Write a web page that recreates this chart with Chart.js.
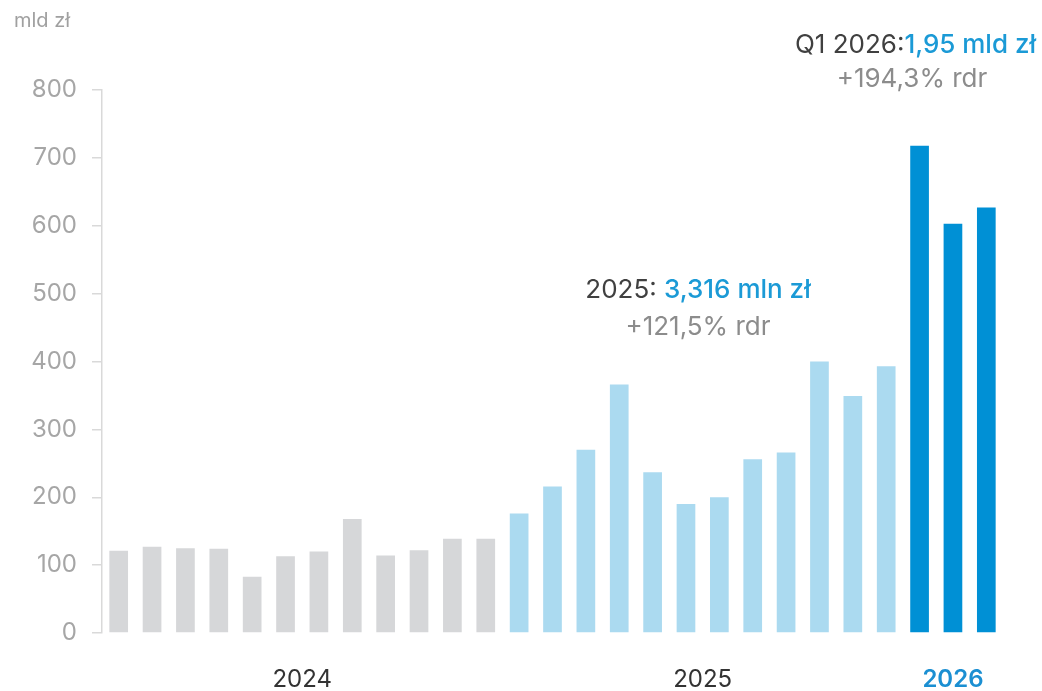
<!DOCTYPE html>
<html>
<head>
<meta charset="utf-8">
<script src="https://cdn.jsdelivr.net/npm/chart.js@4.4.0/dist/chart.umd.min.js"></script>
<style>
  html, body { margin: 0; padding: 0; background: #ffffff; }
  #wrap { width: 1042px; height: 691px; position: relative; }
</style>
</head>
<body>
<div id="wrap"><canvas id="c" width="1042" height="691"></canvas></div>
<script>
// ---- data ----
const values2024 = [121, 127, 125, 124, 83, 113, 120, 168, 114, 122, 139, 139];
const values2025 = [176, 216, 270, 366, 237, 190, 200, 256, 266, 400, 349, 393];
const values2026 = [718, 603, 627];
const yearLabels = ['2024', '2025', '2026'];
const yTicks = [0, 100, 200, 300, 400, 500, 600, 700, 800];
const unitLabel = 'mld zł';
const note2025 = ['2025: ', '3,316 mln zł', '+121,5% rdr'];
const note2026 = ['Q1 2026:', '1,95 mld zł', '+194,3% rdr'];

const colors = { y2024: '#D6D7D9', y2025: '#ABDAF0', y2026: '#0090D5' };
const FONT = 'Inter, "Noto Sans", sans-serif';

const allValues = [...values2024, ...values2025, ...values2026];
const categories = allValues.map((_, i) => 'm' + (i + 1));
const barColors = [
  ...values2024.map(() => colors.y2024),
  ...values2025.map(() => colors.y2025),
  ...values2026.map(() => colors.y2026)
];
// year groups: [first index, last index]
const yearGroups = [
  [0, values2024.length - 1],
  [values2024.length, values2024.length + values2025.length - 1],
  [values2024.length + values2025.length, allValues.length - 1]
];

const notesPlugin = {
  id: 'notes',
  afterDraw(chart) {
    const ctx = chart.ctx;
    const xs = chart.scales.x;
    ctx.save();
    ctx.textBaseline = 'alphabetic';
    // year labels centred under their groups
    yearGroups.forEach((g, i) => {
      const x = (xs.getPixelForValue(g[0]) + xs.getPixelForValue(g[1])) / 2;
      ctx.font = (i === 2 ? '600 ' : '400 ') + '24px ' + FONT;
      ctx.fillStyle = i === 2 ? '#1B8FD2' : '#333333';
      ctx.textAlign = 'center';
      ctx.fillText(yearLabels[i], x, 687);
    });
    // unit label
    ctx.font = '400 20px ' + FONT;
    ctx.fillStyle = '#A0A0A0';
    ctx.textAlign = 'left';
    ctx.fillText(unitLabel, 14, 27);

    function mixed(parts, fonts, cols, x, y, align) {
      const widths = parts.map((p, i) => { ctx.font = fonts[i]; return ctx.measureText(p).width; });
      const total = widths.reduce((a, b) => a + b, 0);
      let start = align === 'right' ? x - total : x - total / 2;
      ctx.textAlign = 'left';
      parts.forEach((p, i) => {
        ctx.font = fonts[i];
        ctx.fillStyle = cols[i];
        ctx.fillText(p, start, y);
        start += widths[i];
      });
    }
    // 2025 note
    mixed([note2025[0], note2025[1]],
      ['400 26px ' + FONT, '500 26px ' + FONT],
      ['#404040', '#1B9AD6'], 698, 298, 'center');
    ctx.font = '400 26px ' + FONT;
    ctx.fillStyle = '#8C8C8C';
    ctx.textAlign = 'center';
    ctx.fillText(note2025[2], 698, 335);
    // 2026 note
    mixed([note2026[0], note2026[1]],
      ['400 26px ' + FONT, '500 26px ' + FONT],
      ['#404040', '#1B9AD6'], 1036, 53, 'right');
    ctx.font = '400 26px ' + FONT;
    ctx.fillStyle = '#8C8C8C';
    ctx.textAlign = 'center';
    ctx.fillText(note2026[2], 912, 87);
    ctx.restore();
  }
};

new Chart(document.getElementById('c'), {
  type: 'bar',
  data: {
    labels: categories,
    datasets: [{
      data: allValues,
      backgroundColor: barColors,
      borderWidth: 0,
      categoryPercentage: 1.0,
      barPercentage: 0.56
    }]
  },
  options: {
    responsive: false,
    animation: false,
    devicePixelRatio: 1,
    layout: { padding: { top: 90, right: 39, left: 0, bottom: 58 } },
    plugins: { legend: { display: false }, tooltip: { enabled: false } },
    scales: {
      x: { type: 'category', display: false, offset: true },
      y: {
        min: 0,
        max: 800,
        afterBuildTicks(scale) { scale.ticks = yTicks.map(v => ({ value: v })); },
        afterFit(scale) { scale.width = 102; },
        grid: { display: true, drawOnChartArea: false, drawTicks: true, tickLength: 10, color: '#D9D9D9', lineWidth: 1.5 },
        border: { display: true, color: '#D9D9D9', width: 1.5 },
        ticks: {
          padding: 15,
          color: '#A6A6A6',
          font: { family: FONT, size: 24, weight: '400' }
        }
      }
    }
  },
  plugins: [notesPlugin]
});
</script>
</body>
</html>
